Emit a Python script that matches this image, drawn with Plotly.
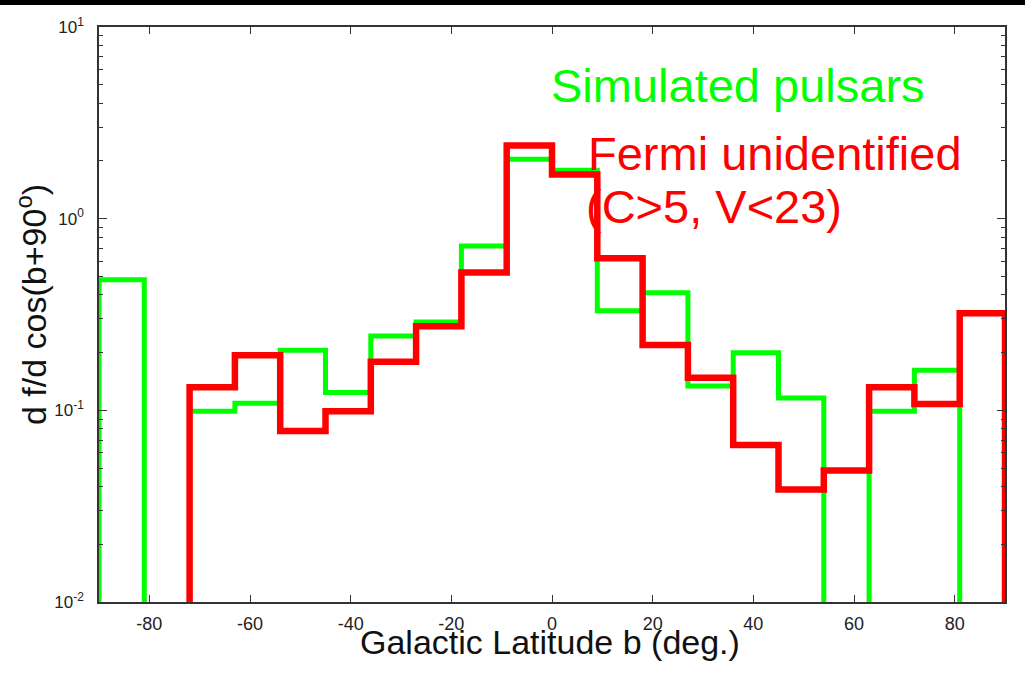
import plotly.graph_objects as go

# Bin edges of galactic latitude (deg), 20 bins of 9 deg
bin_edges = [-90, -81, -72, -63, -54, -45, -36, -27, -18, -9, 0,
             9, 18, 27, 36, 45, 54, 63, 72, 81, 90]

# Simulated pulsars (0 = empty bin)
simulated = [0.48, 0, 0.099, 0.109, 0.206, 0.124, 0.244, 0.289, 0.72, 2.04,
             1.79, 0.331, 0.411, 0.134, 0.20, 0.116, 0, 0.099, 0.162, 0]

# Fermi unidentified (C>5, V<23)
fermi = [0, 0, 0.132, 0.194, 0.078, 0.099, 0.179, 0.275, 0.524, 2.41,
         1.70, 0.622, 0.219, 0.148, 0.066, 0.0386, 0.0486, 0.132, 0.108, 0.321]

x_tickvals = [-80, -60, -40, -20, 0, 20, 40, 60, 80]
x_ticktext = ["-80", "-60", "-40", "-20", "0", "20", "40", "60", "80"]
y_tickvals = [0.01, 0.1, 1, 10]
y_ticktext = ["10<sup>-2</sup>", "10<sup>-1</sup>", "10<sup>0</sup>", "10<sup>1</sup>"]

FLOOR = 1e-3  # empty bins drawn below the visible range


def step_xy(edges, vals):
    xs = [edges[0]] + list(edges)
    ys = [FLOOR] + [v if v > 0 else FLOOR for v in vals] + [FLOOR]
    return xs, ys


FONT = "Liberation Sans, Arial, Helvetica, sans-serif"

fig = go.Figure()
gx, gy = step_xy(bin_edges, simulated)
rx, ry = step_xy(bin_edges, fermi)
fig.add_trace(go.Scatter(x=gx, y=gy, mode="lines", line=dict(color="#00ff00", width=5, shape="hv"),
                         name="Simulated pulsars", showlegend=False))
fig.add_trace(go.Scatter(x=rx, y=ry, mode="lines", line=dict(color="#ff0000", width=6.5, shape="hv"),
                         name="Fermi unidentified", showlegend=False))

L, R, T, B = 99, 20, 27, 78
W, H = 1025, 680
pw, ph = W - L - R, H - T - B


def px(x):
    return (x - L) / pw


def py(y):
    return (H - B - y) / ph


axis_common = dict(showline=True, linecolor="#333333", linewidth=1.5, mirror="ticks",
                   ticks="inside", tickcolor="#333333", showgrid=False, zeroline=False)

fig.update_xaxes(range=[-90, 90], tickvals=x_tickvals, ticktext=x_ticktext, ticklen=7, tickwidth=1.2,
                 ticklabelstandoff=5, tickfont=dict(family=FONT, size=18, color="#222222"),
                 **axis_common)
fig.update_yaxes(type="log", range=[-2, 1], tickvals=y_tickvals, ticktext=y_ticktext,
                 ticklen=8, tickwidth=1.2, ticklabelstandoff=10,
                 tickfont=dict(family=FONT, size=17, color="#222222"),
                 minor=dict(ticks="inside", ticklen=4, tickcolor="#333333", tickwidth=1,
                            dtick="D1", showgrid=False),
                 **axis_common)

annotations = [
    dict(text="Simulated pulsars", x=px(549), y=py(85), xanchor="left", yanchor="middle",
         font=dict(family=FONT, size=47, color="#00ff00")),
    dict(text="Fermi unidentified", x=px(586), y=py(153), xanchor="left", yanchor="middle",
         font=dict(family=FONT, size=47, color="#ff0000")),
    dict(text="(C>5, V<23)", x=px(584), y=py(207), xanchor="left", yanchor="middle",
         font=dict(family=FONT, size=47, color="#ff0000")),
    dict(text="Galactic Latitude b (deg.)", x=px(550), y=py(642), xanchor="center", yanchor="middle",
         font=dict(family=FONT, size=34, color="#111111")),
    dict(text="d f/d cos(b+90<sup>o</sup>)", x=px(31), y=py(305), xanchor="center", yanchor="middle",
         textangle=-90, font=dict(family=FONT, size=34, color="#111111")),
]
for a in annotations:
    a.update(xref="paper", yref="paper", showarrow=False)

fig.update_layout(
    width=W, height=H,
    margin=dict(l=L, r=R, t=T, b=B),
    paper_bgcolor="white", plot_bgcolor="white",
    annotations=annotations,
    shapes=[dict(type="rect", xref="paper", yref="paper",
                 x0=px(0), x1=px(W), y0=py(5), y1=py(-2),
                 fillcolor="black", line=dict(width=0), layer="above")],
)

fig.write_html("out.html")
